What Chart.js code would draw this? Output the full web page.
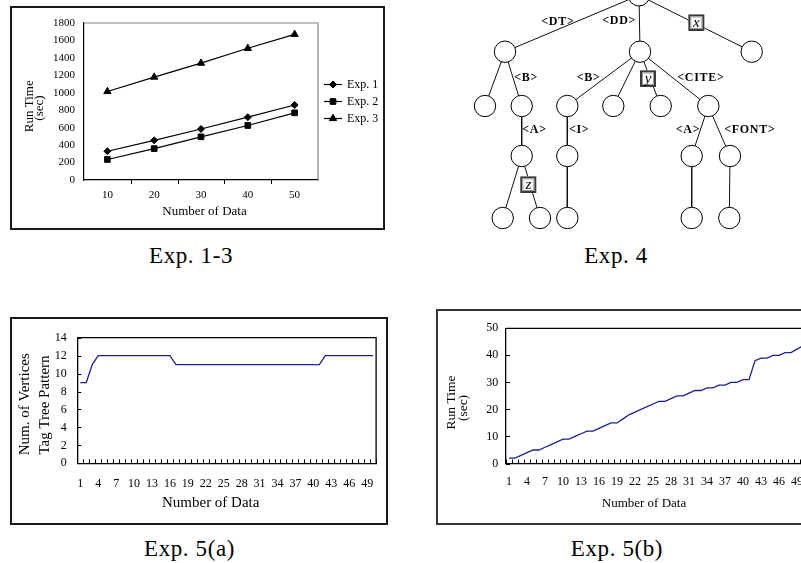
<!DOCTYPE html>
<html><head><meta charset="utf-8">
<script src="https://cdn.jsdelivr.net/npm/chart.js@4.4.1/dist/chart.umd.min.js"></script>
<style>
html,body{margin:0;padding:0;background:#fff;overflow:hidden;width:801px;height:563px;position:relative;}
canvas{position:absolute;}
.box{position:absolute;border:2px solid #1a1a1a;box-sizing:border-box;}
.cap{position:absolute;font-family:"Liberation Serif",serif;font-size:23px;line-height:22px;letter-spacing:0.6px;text-align:center;width:240px;color:#000;white-space:nowrap;}
</style></head><body>
<div class="box" style="left:10px;top:6px;width:375px;height:224px"></div>
<div class="box" style="left:10px;top:317px;width:378px;height:208px"></div>
<div class="box" style="left:436px;top:309px;width:420px;height:215.5px;border-color:#333"></div>
<canvas id="c1" width="373" height="222" style="left:11px;top:7px"></canvas>
<canvas id="c2" width="341" height="235" style="left:460px;top:0px"></canvas>
<canvas id="c3" width="376" height="206" style="left:11px;top:318px"></canvas>
<canvas id="c4" width="380" height="213" style="left:437px;top:310px"></canvas>
<div class="cap" style="left:71px;top:245px">Exp. 1-3</div>
<div class="cap" style="left:496px;top:245px">Exp. 4</div>
<div class="cap" style="left:69.5px;top:537.7px">Exp. 5(a)</div>
<div class="cap" style="left:497px;top:537.7px">Exp. 5(b)</div>
<script>
// ---------- Exp. 1-3 ----------
const exp13Labels = ['10', '20', '30', '40', '50'];
const exp1RunTime = [330, 455, 585, 720, 860];
const exp2RunTime = [235, 360, 495, 625, 770];
const exp3RunTime = [1015, 1180, 1340, 1510, 1670];
const exp13SeriesNames = ['Exp. 1', 'Exp. 2', 'Exp. 3'];

// ---------- Exp. 5 ----------
const exp5Labels = ['1','2','3','4','5','6','7','8','9','10','11','12','13','14','15','16','17','18','19','20',
  '21','22','23','24','25','26','27','28','29','30','31','32','33','34','35','36','37','38','39','40',
  '41','42','43','44','45','46','47','48','49','50'];
const exp5aVertices = [9, 9, 11, 12, 12, 12, 12, 12, 12, 12, 12, 12, 12, 12, 12, 12,
  11, 11, 11, 11, 11, 11, 11, 11, 11, 11, 11, 11, 11, 11, 11, 11, 11, 11, 11, 11, 11, 11, 11, 11, 11,
  12, 12, 12, 12, 12, 12, 12, 12, 12];
const exp5bRunTime = [2, 2, 3, 4, 5, 5, 6, 7, 8, 9, 9, 10, 11, 12, 12, 13, 14, 15, 15, 16.5,
  18, 19, 20, 21, 22, 23, 23, 24, 25, 25, 26, 27, 27, 28, 28, 29, 29, 30, 30, 31,
  31, 38, 39, 39, 40, 40, 41, 41, 42.3, 43.5];

// ---------- Exp. 4 (tag tree pattern) ----------
const treeNodeX = [639, 505, 640, 751.7, 485, 521.7, 567.3, 613.3, 660.7, 708.3,
  521.7, 567.3, 691.7, 730, 502.7, 540, 567.3, 691.7, 729.3];
const treeNodeLevel = [0, 1, 1, 1, 2, 2, 2, 2, 2, 2, 3, 3, 3, 3, 4, 4, 4, 4, 4];
const treeLevelDepth = [-4.7, 51.7, 106, 156, 218];
const treeParent = [-1, 0, 0, 0, 1, 1, 2, 2, 2, 2, 5, 6, 9, 9, 10, 10, 11, 12, 13];
const treeEdgeChild = [1, 2, 3, 5, 6, 8, 9, 10, 11, 12, 13, 15];
const treeEdgeText = ['<DT>', '<DD>', 'x', '<B>', '<B>', 'y', '<CITE>', '<A>', '<I>', '<A>', '<FONT>', 'z'];
const treeEdgeBoxed = [false, false, true, false, false, true, false, false, false, false, false, true];

Chart.defaults.font.family = "'Liberation Serif', 'Times New Roman', serif";
Chart.defaults.color = '#000';

const frameTicks = {
  id: 'frameTicks',
  afterDraw(chart, args, o) {
    const {ctx, chartArea: a, scales: {x, y}} = chart;
    ctx.save();
    ctx.strokeStyle = o.frameColor; ctx.lineWidth = o.frameWidth;
    ctx.beginPath();
    ctx.moveTo(a.left, a.top); ctx.lineTo(a.right, a.top); ctx.lineTo(a.right, a.bottom);
    ctx.stroke();
    ctx.strokeStyle = o.tickColor; ctx.lineWidth = 1;
    const dir = o.inside ? -1 : 1;
    ctx.beginPath();
    const n = chart.data.labels.length;
    for (let i = 0; i <= n; i++) {
      if (!o.edgeTicks && (i === 0 || i === n)) continue;
      const px = Math.round(x.getPixelForValue(i - 0.5)) + 0.5;
      ctx.moveTo(px, a.bottom); ctx.lineTo(px, a.bottom + dir * o.tickLen);
    }
    if (o.yTicks) {
      y.ticks.forEach(t => {
        const py = Math.round(y.getPixelForValue(t.value)) + 0.5;
        ctx.moveTo(a.left, py); ctx.lineTo(a.left - dir * o.tickLen, py);
      });
    }
    ctx.stroke();
    ctx.restore();
  }
};

const axisText = {
  id: 'axisText',
  afterDraw(chart, args, o) {
    const ctx = chart.ctx;
    (o.items || []).forEach(it => {
      ctx.save();
      ctx.translate(it.x, it.y);
      if (it.rotate) ctx.rotate(it.rotate * Math.PI / 180);
      ctx.font = it.size + "px 'Liberation Serif', serif";
      ctx.fillStyle = '#000'; ctx.textAlign = 'center'; ctx.textBaseline = 'middle';
      ctx.fillText(it.text, 0, 0);
      ctx.restore();
    });
  }
};

const lineLegend = {
  id: 'lineLegend',
  afterDraw(chart, args, o) {
    const ctx = chart.ctx;
    chart.data.datasets.forEach((ds, i) => {
      const y = o.y + i * o.gap;
      ctx.save();
      ctx.strokeStyle = ds.borderColor; ctx.lineWidth = ds.borderWidth;
      ctx.beginPath(); ctx.moveTo(o.x, y); ctx.lineTo(o.x + o.len, y); ctx.stroke();
      ctx.fillStyle = ds.pointBackgroundColor; ctx.strokeStyle = ds.pointBorderColor; ctx.lineWidth = 1;
      Chart.helpers.drawPoint(ctx, {pointStyle: ds.pointStyle, radius: ds.pointRadius, borderWidth: 1, rotation: 0}, o.x + o.len / 2, y);
      ctx.font = o.size + "px 'Liberation Serif', serif";
      ctx.fillStyle = '#000'; ctx.textAlign = 'left'; ctx.textBaseline = 'middle';
      ctx.fillText(ds.label, o.textX, y);
      ctx.restore();
    });
  }
};

const plainNumber = v => String(v);
const markers = ['rectRot', 'rect', 'triangle'];
const markerRadius = [3.5, 4, 4.2];
const exp13Series = [exp1RunTime, exp2RunTime, exp3RunTime];

new Chart(document.getElementById('c1'), {
  type: 'line',
  data: {
    labels: exp13Labels,
    datasets: exp13Series.map((d, i) => ({
      label: exp13SeriesNames[i], data: d, borderColor: '#000', borderWidth: 1.2,
      pointStyle: markers[i], pointRadius: markerRadius[i], pointBackgroundColor: '#000',
      pointBorderColor: '#000', pointBorderWidth: 1, tension: 0
    }))
  },
  options: {
    responsive: false, animation: false, devicePixelRatio: 1,
    layout: {padding: {left: 0, top: 16, right: 66, bottom: 0}, autoPadding: false},
    plugins: {
      legend: {display: false}, tooltip: {enabled: false},
      frameTicks: {frameColor: '#808080', frameWidth: 1.2, tickColor: '#000', inside: false, yTicks: false, tickLen: 4, edgeTicks: false},
      axisText: {items: [
        {text: 'Number of Data', x: 193.5, y: 205, size: 13},
        {text: 'Run Time', x: 18.3, y: 99.3, size: 13, rotate: -90},
        {text: '(sec)', x: 29, y: 101, size: 13, rotate: -90}
      ]},
      lineLegend: {x: 313, len: 18, y: 77.5, gap: 17, textX: 336, size: 12}
    },
    scales: {
      x: {offset: true, grid: {display: false, drawTicks: false}, border: {display: true, color: '#000', width: 1.2},
          ticks: {padding: 8.4, font: {size: 11}, color: '#000', maxRotation: 0, autoSkip: false},
          afterFit(s) { s.height = 49; }},
      y: {min: 0, max: 1800, grid: {display: false, drawTicks: false}, border: {display: true, color: '#000', width: 1.2},
          ticks: {stepSize: 200, padding: 9, font: {size: 11}, color: '#000', callback: plainNumber},
          afterFit(s) { s.width = 73; }}
    }
  },
  plugins: [frameTicks, axisText, lineLegend]
});

// ---------- tree ----------
const treeNodes = treeNodeX.map((x, i) => ({x: x, y: treeLevelDepth[treeNodeLevel[i]]}));
const edgeSets = [];
treeParent.forEach((p, i) => {
  if (p >= 0) edgeSets.push({data: [treeNodes[p], treeNodes[i]], showLine: true, borderColor: '#111',
    borderWidth: 1, pointRadius: 0, clip: false});
});
const edgeLabels = {
  id: 'edgeLabels',
  afterDatasetsDraw(chart, args, o) {
    const {ctx, scales: {x, y}} = chart;
    treeEdgeChild.forEach((c, k) => {
      const cn = treeNodes[c], pn = treeNodes[treeParent[c]];
      const off = o.offsets[k];
      const mx = (x.getPixelForValue(cn.x) + x.getPixelForValue(pn.x)) / 2 + off[0];
      const my = (y.getPixelForValue(cn.y) + y.getPixelForValue(pn.y)) / 2 + off[1];
      ctx.save();
      if (treeEdgeBoxed[k]) {
        const w = 16, h = 16.6;
        ctx.fillStyle = '#fff'; ctx.fillRect(mx - w / 2, my - h / 2, w, h);
        ctx.strokeStyle = '#3a3a3a'; ctx.lineWidth = 2; ctx.strokeRect(mx - w / 2 + 1, my - h / 2 + 1, w - 2, h - 2);
        ctx.strokeStyle = '#9a9a9a'; ctx.lineWidth = 1; ctx.strokeRect(mx - w / 2 + 2.5, my - h / 2 + 2.5, w - 5, h - 5);
        ctx.font = "italic 15px 'Liberation Serif', serif";
        ctx.fillStyle = '#000'; ctx.textAlign = 'center'; ctx.textBaseline = 'middle';
        ctx.fillText(treeEdgeText[k], mx, my + 0.5);
      } else {
        ctx.font = "bold 12px 'Liberation Serif', serif";
        try { ctx.letterSpacing = '0.7px'; } catch (e) {}
        ctx.fillStyle = '#000'; ctx.textAlign = 'center'; ctx.textBaseline = 'middle';
        ctx.fillText(treeEdgeText[k], mx + 0.35, my);
      }
      ctx.restore();
    });
  }
};
new Chart(document.getElementById('c2'), {
  type: 'scatter',
  data: {datasets: [{data: treeNodes, pointRadius: 10.7, pointStyle: 'circle', backgroundColor: '#fff',
    borderColor: '#000', borderWidth: 1, clip: false}].concat(edgeSets)},
  options: {
    responsive: false, animation: false, devicePixelRatio: 1,
    layout: {padding: 0, autoPadding: false},
    plugins: {legend: {display: false}, tooltip: {enabled: false},
      edgeLabels: {offsets: [[-14.5, -1.8], [-20.7, -2.7], [1, -0.8], [12.5, -0.85], [-15.3, -0.85], [-2.35, -0.15],
        [26.35, -0.85], [12.5, -1], [11.5, -1], [-12.3, -1], [30.35, -1], [-2.55, -2.3]]}},
    scales: {
      x: {type: 'linear', display: false, min: 460, max: 801},
      y: {type: 'linear', display: false, min: 0, max: 235, reverse: true}
    }
  },
  plugins: [edgeLabels]
});

// ---------- Exp. 5(a) ----------
const everyThird = function (v, i) { return i % 3 === 0 ? this.getLabelForValue(v) : ''; };
new Chart(document.getElementById('c3'), {
  type: 'line',
  data: {labels: exp5Labels, datasets: [{label: 'Num. of Vertices', data: exp5aVertices, borderColor: '#1f1f8f',
    borderWidth: 1.3, pointRadius: 0, tension: 0}]},
  options: {
    responsive: false, animation: false, devicePixelRatio: 1,
    layout: {padding: {left: 0, top: 19.7, right: 7.7, bottom: 0}, autoPadding: false},
    plugins: {legend: {display: false}, tooltip: {enabled: false},
      frameTicks: {frameColor: '#000', frameWidth: 1.3, tickColor: '#000', inside: true, yTicks: true, tickLen: 4, edgeTicks: true},
      axisText: {items: [
        {text: 'Number of Data', x: 199.7, y: 185.3, size: 15},
        {text: 'Num. of Vertices', x: 14, y: 86.2, size: 15, rotate: -90},
        {text: 'Tag Tree Pattern', x: 34, y: 87, size: 15, rotate: -90}
      ]}},
    scales: {
      x: {offset: true, grid: {display: false, drawTicks: false}, border: {display: true, color: '#000', width: 1.3},
          ticks: {autoSkip: false, maxRotation: 0, padding: 13.8, font: {size: 12}, color: '#000', callback: everyThird},
          afterFit(s) { s.height = 60.7; }},
      y: {min: 0, max: 14, grid: {display: false, drawTicks: false}, border: {display: true, color: '#000', width: 1.3},
          ticks: {stepSize: 2, padding: 10.5, font: {size: 12}, color: '#000', callback: plainNumber},
          afterFit(s) { s.width = 66.3; }}
    }
  },
  plugins: [frameTicks, axisText]
});

// ---------- Exp. 5(b) ----------
new Chart(document.getElementById('c4'), {
  type: 'line',
  data: {labels: exp5Labels, datasets: [{label: 'Run Time', data: exp5bRunTime, borderColor: '#1f1f8f',
    borderWidth: 1.3, pointRadius: 0, tension: 0}]},
  options: {
    responsive: false, animation: false, devicePixelRatio: 1,
    layout: {padding: {left: 0, top: 18.3, right: 11, bottom: 0}, autoPadding: false},
    plugins: {legend: {display: false}, tooltip: {enabled: false},
      frameTicks: {frameColor: '#000', frameWidth: 1.3, tickColor: '#000', inside: true, yTicks: true, tickLen: 4, edgeTicks: true},
      axisText: {items: [
        {text: 'Number of Data', x: 207, y: 193.3, size: 13},
        {text: 'Run Time', x: 14.7, y: 92.5, size: 13.5, rotate: -90},
        {text: '(sec)', x: 26.3, y: 98, size: 13.5, rotate: -90}
      ]}},
    scales: {
      x: {offset: true, grid: {display: false, drawTicks: false}, border: {display: true, color: '#000', width: 1.3},
          ticks: {autoSkip: false, maxRotation: 0, padding: 11, font: {size: 12}, color: '#000', callback: everyThird},
          afterFit(s) { s.height = 59.5; }},
      y: {min: 0, max: 50, grid: {display: false, drawTicks: false}, border: {display: true, color: '#000', width: 1.3},
          ticks: {stepSize: 10, padding: 7.7, font: {size: 12}, color: '#000', callback: plainNumber},
          afterFit(s) { s.width = 69; }}
    }
  },
  plugins: [frameTicks, axisText]
});
</script>
</body></html>
